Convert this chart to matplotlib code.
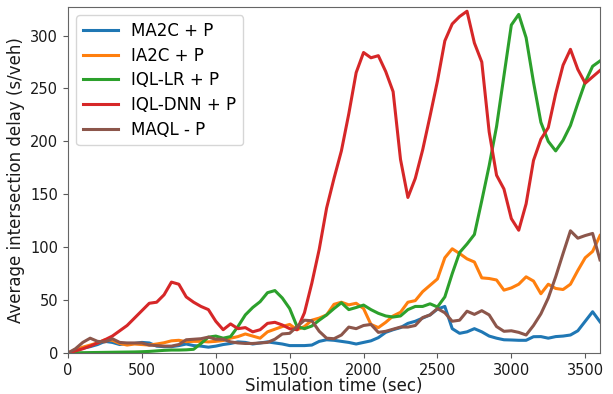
import numpy as np
import matplotlib
matplotlib.use("Agg")
import matplotlib.pyplot as plt

time_sec = list(range(0, 3601, 50))

ma2c = [0, 2, 4.5, 6, 8, 11, 10, 8, 9, 9, 10, 9.5, 6.5, 6, 6, 7, 8.5, 7, 6.5, 5.5,
        6.5, 8, 9, 10.5, 10, 8.5, 9.5, 10.5, 9.5, 8.5, 7, 7, 7, 7.5, 11, 12.5, 12, 11, 10, 8.5,
        10, 11.5, 14.5, 19.5, 22, 24, 28, 30, 33, 36, 41.5, 44, 23, 18.6, 20, 23, 20, 16, 14, 12.5,
        12.3, 12, 12, 15.4, 15.5, 14, 15.5, 16, 17, 21, 30, 39, 29.5]

ia2c = [0, 3, 5.5, 7.5, 9.5, 12.5, 12, 9, 7.5, 8.5, 8, 7.5, 8.5, 9.7, 11.5, 12, 10.7, 11, 11, 10.5,
        11, 11.8, 14, 15.5, 18, 16, 14, 20, 22.5, 25, 27, 22, 25, 31, 33, 36, 46, 48, 45.5, 47,
        42, 27, 24, 29, 35, 38.5, 48, 49.5, 58, 64, 70, 90, 98.5, 94, 89, 86, 71, 70.4, 69, 59.4,
        61.5, 65, 72, 68, 56, 65, 61, 60, 65, 78, 90, 96, 111]

iql_lr = [0, 0.2, 0.3, 0.4, 0.5, 0.6, 0.7, 0.8, 0.9, 1.0, 1.2, 1.5, 2, 2.5, 2.8, 2.8, 3, 3.5, 9, 15,
          16, 14, 15.5, 25, 36, 43, 48.5, 57, 59, 52, 42, 25, 23, 25.5, 31, 36, 42, 47.5, 41, 43,
          45.3, 41, 37.5, 35, 34, 35, 41, 44, 44, 46.5, 43.5, 53, 75, 95, 103, 112, 144, 177, 214, 262,
          310, 320, 298, 256, 218, 200, 191, 201, 215, 236, 256, 271, 276]

iql_dnn = [0, 2, 4, 6.5, 9.5, 12.5, 16, 21, 26, 33, 40, 47, 48, 55, 67, 65, 53, 48, 44, 41,
           30, 22, 27.5, 23, 24, 20, 22, 28, 29, 26.5, 23, 22, 38, 66, 98, 137, 165, 191, 226, 265,
           284, 279, 281, 266, 247, 183, 147, 165, 192, 224, 257, 295, 311, 318, 323, 293, 275, 209, 168, 155,
           127, 116, 141, 182, 202, 213, 245, 272, 287, 268, 255, 261, 267]

maql = [0, 4, 10, 14, 11, 10.5, 13.5, 10, 9.5, 9.5, 9.5, 7.5, 7, 6.5, 6.5, 8, 12.5, 13, 13.5, 15,
        13, 13, 10.5, 9.5, 9, 9, 9.5, 10, 13, 18, 18.6, 25, 31, 30.5, 20.5, 14, 13.5, 17, 24.5, 23,
        26, 27, 19.5, 20.5, 22.5, 24.5, 24.5, 26, 33.5, 36, 42, 38, 30, 31, 39.5, 36.5, 40, 36, 25, 20.5,
        21, 19.5, 17, 26, 37, 52, 72, 94, 115.5, 108.5, 111, 113, 88]

series_labels = ["MA2C + P", "IA2C + P", "IQL-LR + P", "IQL-DNN + P", "MAQL - P"]
series_values = [ma2c, ia2c, iql_lr, iql_dnn, maql]
colors = ["#1f77b4", "#ff7f0e", "#2ca02c", "#d62728", "#8c564b"]

fig = plt.figure(figsize=(6.13, 3.94), dpi=100)
ax = fig.add_axes([68/613, 1-353/394, (600-68)/613, (353-7)/394])

for lab, vals, c in zip(series_labels, series_values, colors):
    ax.plot(time_sec, vals, color=c, lw=2.2, label=lab)

ax.set_xlim(0, 3600)
ax.set_ylim(0, 327)
ax.set_xticks([0, 500, 1000, 1500, 2000, 2500, 3000, 3500])
ax.set_yticks([0, 50, 100, 150, 200, 250, 300])
ax.tick_params(labelsize=10.5, color="0.35", labelcolor="0.1")
for s in ax.spines.values():
    s.set_color("0.4")
ax.set_xlabel("Simulation time (sec)", fontsize=12, labelpad=-0.8, color="0.1")
ax.set_ylabel("Average intersection delay (s/veh)", fontsize=12, labelpad=4, color="0.1")
ax.legend(loc="upper left", fontsize=12, frameon=True, borderaxespad=0.5,
          handlelength=2.1, labelspacing=0.4)

fig.savefig("out.png", dpi=100)
